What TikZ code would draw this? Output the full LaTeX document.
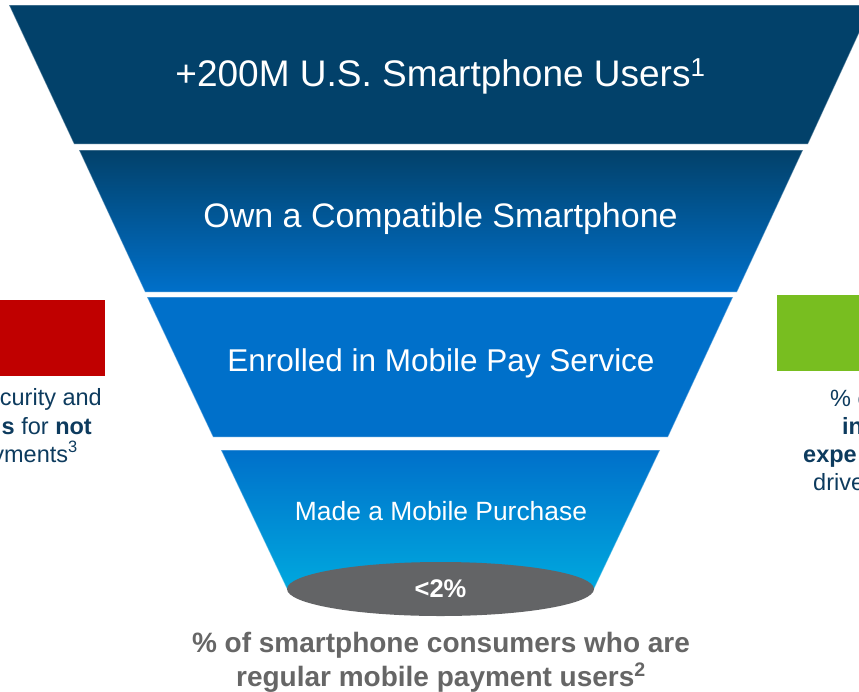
\documentclass[tikz,border=0pt]{standalone}
\usepackage{fontspec}
\setmainfont{Liberation Sans}
\usepackage{tikz}
\usetikzlibrary{calc}
\usetikzlibrary{shapes.geometric}
\definecolor{navy}{HTML}{02416A}
\definecolor{midblue}{HTML}{0070CA}
\definecolor{cyanblue}{HTML}{00A8DE}
\definecolor{slate}{HTML}{636466}
\definecolor{darkred}{HTML}{C00000}
\definecolor{leafgreen}{HTML}{78BE20}
\definecolor{inkblue}{HTML}{0D3B5E}
\definecolor{greytext}{HTML}{666666}

\begin{document}
\begin{tikzpicture}[x=1pt, y=-1pt,
  edge/.style={draw=white, draw opacity=0.35, line width=1},
  bandtext/.style={text=white, inner sep=0, anchor=base},
  sidetext/.style={text=inkblue, inner sep=0, font=\fontsize{23.5}{28}\selectfont},
  caption/.style={text=greytext, inner sep=0, anchor=base, font=\bfseries\fontsize{28}{34}\selectfont}]

\clip (0, 0) rectangle (859, 691);

% TOP BAND
% band corners
\coordinate (A) at (9, 5);
\coordinate (B) at (872, 5);
\coordinate (C) at (808, 144);
\coordinate (D) at (74, 144);
\fill[navy] (A) -- (B) -- (C) -- (D) -- cycle;
\draw[edge] (A) -- (B) -- (C) -- (D) -- cycle;
% band text
\node[bandtext, font=\fontsize{37}{44}\selectfont] (users) at (440.5, 86) {+200M U.S. Smartphone Users\textsuperscript{1}};

% SECOND BAND
% band corners
\coordinate (E) at (79, 150);
\coordinate (F) at (803, 150);
\coordinate (G) at (737, 292);
\coordinate (H) at (145, 292);
\shade[top color=navy, bottom color=midblue] (E) -- (F) -- (G) -- (H) -- cycle;
\draw[edge] (E) -- (F) -- (G) -- (H) -- cycle;
% band text
\node[bandtext, font=\fontsize{34}{40}\selectfont] (owners) at (440.5, 227) {Own a Compatible Smartphone};

% THIRD BAND
% band corners
\coordinate (I) at (147, 297);
\coordinate (J) at (733, 297);
\coordinate (K) at (668, 437);
\coordinate (L) at (213, 437);
\fill[midblue] (I) -- (J) -- (K) -- (L) -- cycle;
\draw[edge] (I) -- (J) -- (K) -- (L) -- cycle;
% band text
\node[bandtext, font=\fontsize{31.5}{38}\selectfont] (enrolled) at (441, 371) {Enrolled in Mobile Pay Service};

% BOTTOM BAND
% band corners
\coordinate (M) at (221, 450);
\coordinate (N) at (660, 450);
\coordinate (O) at (594, 589);
\coordinate (P) at (287, 589);
\shade[top color=midblue, bottom color=cyanblue] (M) -- (N) -- (O) -- (P) -- cycle;
\draw[edge] (M) -- (N) -- (O) -- (P) -- cycle;
% band text
\node[bandtext, font=\fontsize{26.4}{32}\selectfont] (purchase) at (441, 520) {Made a Mobile Purchase};

% funnel outlet
\node[ellipse, fill=slate, text=white, inner sep=0, minimum width=307pt, minimum height=54pt,
  font=\bfseries\fontsize{25.5}{30}\selectfont] (share) at (440.5, 589) {<2\%};

% caption
\node[caption] (caption) at (441, 652) {\% of smartphone consumers who are};
\node[caption] (captiontwo) at (441, 686) {regular mobile payment users\textsuperscript{2}};

% LEFT PANEL
\fill[darkred] (0, 300) rectangle (105, 376);
\node[sidetext, anchor=base east] (leftone) at (102, 405) {curity and};
\node[sidetext, anchor=base east] (lefttwo) at (92, 434) {\textbf{s} for \textbf{not}};
\node[sidetext, anchor=base east] (leftthree) at (78, 462) {yments\textsuperscript{3}};

% RIGHT PANEL
\fill[leafgreen] (777, 295) rectangle (870, 371);
\node[sidetext, anchor=base west] (rightone) at (830, 406) {\% o};
\node[sidetext, anchor=base west] (righttwo) at (842, 434) {\textbf{in}};
\node[sidetext, anchor=base west] (rightthree) at (803, 462) {\textbf{expe}};
\node[sidetext, anchor=base west] (rightfour) at (813, 490) {drive};

\end{tikzpicture}
\end{document}
